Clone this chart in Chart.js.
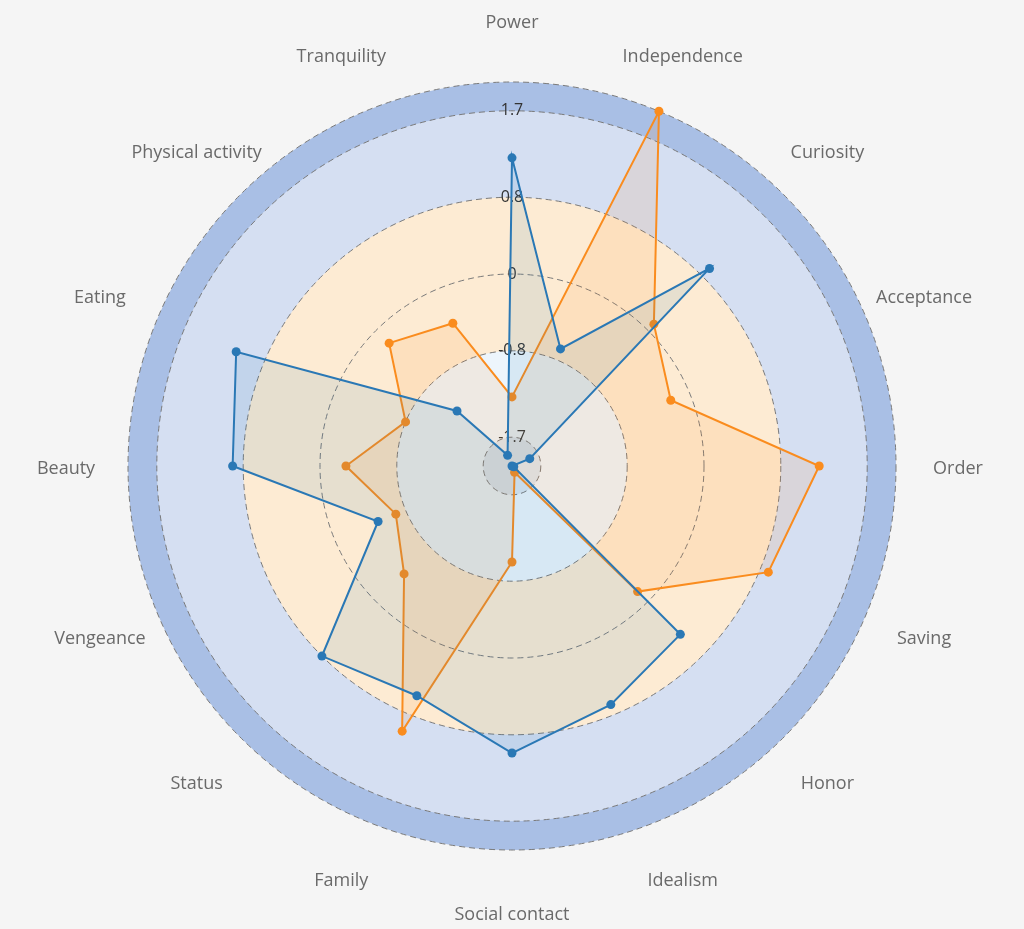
<!DOCTYPE html>
<html>
<head>
<meta charset="utf-8">
<title>Motives radar</title>
<script src="https://cdn.jsdelivr.net/npm/chart.js@4.4.0/dist/chart.umd.min.js"></script>
<style>
  html, body { margin: 0; padding: 0; background: #f5f5f5; }
  #wrap { width: 1024px; height: 929px; }
</style>
</head>
<body>
<div id="wrap"><canvas id="radar" width="1024" height="929"></canvas></div>
<script>
// categories, clockwise from the top
const motives = ["Power", "Independence", "Curiosity", "Acceptance", "Order", "Saving",
  "Honor", "Idealism", "Social contact", "Family", "Status", "Vengeance", "Beauty",
  "Eating", "Physical activity", "Tranquility"];

// values
const blueScores = [1.21, -0.68, 0.91, -1.80, -2.0, -1.98, 0.48, 0.69, 0.99, 0.59, 0.80,
  -0.49, 0.91, 1.11, -1.19, -1.88];
const orangeScores = [-1.28, 2.0, 0.09, -0.21, 1.20, 0.89, -0.15, -1.93, -1.0, 0.99, -0.41,
  -0.69, -0.27, -0.80, -0.19, -0.39];

// radial ticks; the two ends carry no label
const tickValues = [-2, -1.7, -0.8, 0, 0.8, 1.7, 2];

// background rings, from the centre outwards (upper bound of each ring)
const ringLimits = [-1.7, -0.8, 0, 0.8, 1.7, 2];
const ringColors = ["#dce7f1", "#edf5fc", "#fdebd3", "#fdebd3", "#d5dff2", "#a9bfe5"];

const FONT = "'Open Sans', 'Noto Sans', sans-serif";

// page background and coloured rings, under the grid
const ringsPlugin = {
  id: "rings",
  beforeDraw(chart) {
    const { ctx } = chart;
    const r = chart.scales.r;
    ctx.save();
    ctx.fillStyle = "#f5f5f5";
    ctx.fillRect(0, 0, chart.width, chart.height);
    for (let i = ringLimits.length - 1; i >= 0; i--) {
      ctx.beginPath();
      ctx.arc(r.xCenter, r.yCenter, r.getDistanceFromCenterForValue(ringLimits[i]), 0, Math.PI * 2);
      ctx.fillStyle = ringColors[i];
      ctx.fill();
    }
    ctx.restore();
  }
};

// category names centred on a circle outside the rings
const namesPlugin = {
  id: "names",
  afterDraw(chart) {
    const { ctx } = chart;
    const r = chart.scales.r;
    ctx.save();
    ctx.font = "18px " + FONT;
    ctx.fillStyle = "#6a6a6a";
    ctx.textAlign = "center";
    ctx.textBaseline = "middle";
    motives.forEach((name, i) => {
      const p = r.getPointPosition(i, r.drawingArea + 62);
      ctx.fillText(name, p.x, p.y + 2.5);
    });
    ctx.restore();
  }
};

new Chart(document.getElementById("radar").getContext("2d"), {
  type: "radar",
  data: {
    labels: motives,
    datasets: [{
      label: "Profile 1",
      data: blueScores,
      borderColor: "#2a78b5",
      backgroundColor: "rgba(31, 119, 180, 0.1)",
      pointBackgroundColor: "#2a78b5",
      pointBorderWidth: 0,
      pointRadius: 4.5,
      borderWidth: 2,
      fill: "start"
    }, {
      label: "Profile 2",
      data: orangeScores,
      borderColor: "#fa8c1e",
      backgroundColor: "rgba(255, 127, 14, 0.1)",
      pointBackgroundColor: "#fa8c1e",
      pointBorderWidth: 0,
      pointRadius: 4.5,
      borderWidth: 2,
      fill: "start"
    }]
  },
  options: {
    responsive: false,
    animation: false,
    layout: { padding: { top: 72, bottom: 69, left: 0, right: 0 } },
    plugins: {
      legend: { display: false },
      tooltip: { enabled: false }
    },
    scales: {
      r: {
        min: -2,
        max: 2,
        afterBuildTicks(scale) {
          scale.ticks = tickValues.map(v => ({ value: v }));
        },
        angleLines: { display: false },
        grid: { circular: true, color: "#7a7a7a", lineWidth: 1 },
        border: { dash: [6, 4] },
        pointLabels: { display: false },
        ticks: {
          showLabelBackdrop: false,
          color: "#333",
          font: { family: FONT, size: 16 },
          callback: v => (v === -2 || v === 2) ? "" : String(v)
        }
      }
    }
  },
  plugins: [ringsPlugin, namesPlugin]
});
</script>
</body>
</html>
